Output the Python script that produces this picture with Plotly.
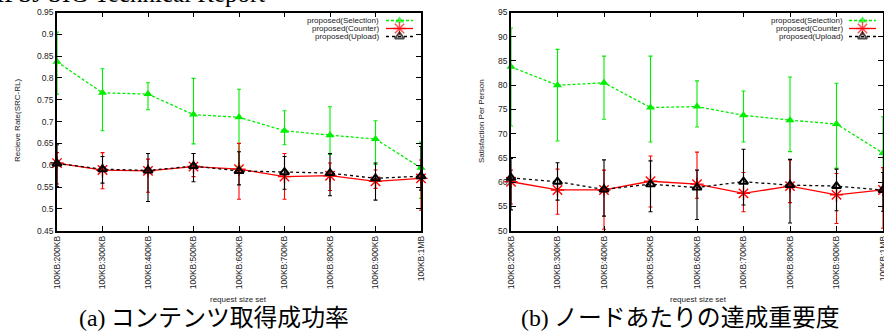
import plotly.graph_objects as go

categories = ["100KB:200KB", "100KB:300KB", "100KB:400KB", "100KB:500KB", "100KB:600KB",
              "100KB:700KB", "100KB:800KB", "100KB:900KB", "100KB:1MB"]

series_names = ["proposed(Selection)", "proposed(Counter)", "proposed(Upload)"]

# (a) Receive rate
sel_rate = [0.837, 0.766, 0.763, 0.716, 0.710, 0.679, 0.669, 0.660, 0.594]
sel_rate_hi = [0.905, 0.821, 0.789, 0.799, 0.774, 0.725, 0.734, 0.702, 0.653]
sel_rate_lo = [0.763, 0.679, 0.727, 0.649, 0.598, 0.647, 0.625, 0.602, 0.524]

cnt_rate = [0.605, 0.589, 0.587, 0.597, 0.591, 0.574, 0.576, 0.563, 0.570]
cnt_rate_hi = [0.629, 0.629, 0.614, 0.627, 0.650, 0.627, 0.605, 0.589, 0.612]
cnt_rate_lo = [0.557, 0.546, 0.538, 0.574, 0.522, 0.522, 0.542, 0.547, 0.497]

upl_rate = [0.604, 0.591, 0.588, 0.598, 0.587, 0.584, 0.582, 0.570, 0.575]
upl_rate_hi = [0.647, 0.620, 0.627, 0.627, 0.631, 0.620, 0.627, 0.605, 0.643]
upl_rate_lo = [0.551, 0.559, 0.517, 0.562, 0.555, 0.545, 0.530, 0.520, 0.543]

# (b) Satisfaction per person
sel_sat = [83.8, 80.0, 80.5, 75.4, 75.6, 73.8, 72.8, 72.0, 66.0]
sel_sat_hi = [91.8, 87.4, 86.0, 86.0, 80.9, 78.8, 81.7, 80.4, 73.5]
sel_sat_lo = [71.6, 68.5, 73.0, 68.3, 71.4, 68.3, 66.3, 62.9, 58.5]

cnt_sat = [60.1, 58.4, 58.4, 60.2, 59.6, 57.7, 59.2, 57.4, 58.4]
cnt_sat_hi = [62.5, 62.7, 62.5, 65.4, 66.2, 62.0, 64.6, 61.8, 63.0]
cnt_sat_lo = [55.5, 53.4, 50.3, 54.9, 56.7, 53.9, 55.8, 51.5, 50.5]

upl_sat = [60.9, 60.1, 58.5, 59.6, 58.9, 60.1, 59.4, 59.2, 58.4]
upl_sat_hi = [64.9, 64.0, 64.6, 64.4, 62.5, 66.8, 64.7, 62.7, 62.0]
upl_sat_lo = [54.3, 56.3, 53.0, 53.9, 52.3, 55.3, 51.6, 54.1, 54.0]

rate_ticks = [0.45, 0.5, 0.55, 0.6, 0.65, 0.7, 0.75, 0.8, 0.85, 0.9, 0.95]
sat_ticks = [50, 55, 60, 65, 70, 75, 80, 85, 90, 95]

W, H = 884, 331
GREEN = "#00ee00"
RED = "#ff0000"
BLACK = "#000000"

styles = [
    dict(color=GREEN, dash="3px,2px", symbol="triangle-up", msize=8, mline=0),
    dict(color=RED, dash="solid", symbol="asterisk-open", msize=11, mline=1.4),
    dict(color=BLACK, dash="dot", symbol="triangle-up-open", msize=8, mline=2),
]

fig = go.Figure()


def add_series(xa, ya, vals, his, los, st, name):
    plus = [h - v for h, v in zip(his, vals)]
    minus = [v - l for v, l in zip(vals, los)]
    fig.add_trace(go.Scatter(
        x=categories, y=vals, name=name, xaxis=xa, yaxis=ya, showlegend=False,
        mode="lines+markers", cliponaxis=False,
        line=dict(color=st["color"], width=1.3, dash=st["dash"]),
        marker=dict(symbol=st["symbol"], size=st["msize"], color=st["color"],
                    line=dict(color=st["color"], width=st["mline"])),
        error_y=dict(type="data", symmetric=False, array=plus, arrayminus=minus,
                     color=st["color"], thickness=1.1, width=2),
    ))


for vals, his, los, st, nm in zip([sel_rate, cnt_rate, upl_rate],
                                  [sel_rate_hi, cnt_rate_hi, upl_rate_hi],
                                  [sel_rate_lo, cnt_rate_lo, upl_rate_lo], styles, series_names):
    add_series("x", "y", vals, his, los, st, nm)

for vals, his, los, st, nm in zip([sel_sat, cnt_sat, upl_sat],
                                  [sel_sat_hi, cnt_sat_hi, upl_sat_hi],
                                  [sel_sat_lo, cnt_sat_lo, upl_sat_lo], styles, series_names):
    add_series("x2", "y2", vals, his, los, st, nm)

# legend keys (gnuplot style: text right-aligned, sample on the right),
# drawn on a hidden pixel-space overlay axis
legend_boxes = [(381, 386, 413), (845, 849, 876)]  # text right edge, sample start, sample end
legend_rows = [20.5, 28.5, 36.5]
small = dict(family="Liberation Sans, Arial, sans-serif", size=8, color="#222")
legend_ann = []
for tx, sx0, sx1 in legend_boxes:
    for st, nm, ry in zip(styles, series_names, legend_rows):
        fig.add_trace(go.Scatter(
            x=[sx0, (sx0 + sx1) / 2, sx1], y=[ry, ry, ry], xaxis="x3", yaxis="y3",
            showlegend=False, hoverinfo="skip", mode="lines+markers", cliponaxis=False,
            line=dict(color=st["color"], width=1.3, dash=st["dash"]),
            marker=dict(symbol=st["symbol"], size=[0, st["msize"], 0], color=st["color"],
                        line=dict(color=st["color"], width=st["mline"])),
        ))
        legend_ann.append(dict(text=nm, x=tx / W, y=1 - ry / H, xanchor="right",
                               yanchor="middle", font=small))

ytop = 1 - 12.5 / H
ybot = 1 - 230.7 / H
tickfont = dict(family="Liberation Sans, Arial, sans-serif", size=8.5, color="#222")

axis_common = dict(showline=True, linecolor="black", linewidth=1.6, mirror="ticks",
                   ticks="inside", ticklen=5, tickwidth=1, tickcolor="black",
                   showgrid=False, zeroline=False, tickfont=tickfont)

fig.update_layout(
    width=W, height=H,
    margin=dict(l=0, r=0, t=0, b=0, autoexpand=False),
    paper_bgcolor="white", plot_bgcolor="rgba(0,0,0,0)",
    font=dict(family="Liberation Sans, Arial, sans-serif", color="#222"),
    showlegend=False,
    xaxis=dict(domain=[57 / W, 421 / W], anchor="y", type="category", range=[0, 8],
               tickangle=-90, **axis_common),
    yaxis=dict(domain=[ybot, ytop], anchor="x", range=[0.45, 0.95],
               tickvals=rate_ticks, **axis_common),
    xaxis2=dict(domain=[511 / W, 883 / W], anchor="y2", type="category", range=[0, 8],
                tickangle=-90, **axis_common),
    yaxis2=dict(domain=[ybot, ytop], anchor="x2", range=[50, 95],
                tickvals=sat_ticks, **axis_common),
    xaxis3=dict(domain=[0, 1], anchor="y3", range=[0, W], visible=False, fixedrange=True),
    yaxis3=dict(domain=[0, 1], anchor="x3", range=[H, 0], visible=False, fixedrange=True),
)

cap_font = dict(family="Noto Sans CJK JP, sans-serif", size=23.8, color="black")
ann = legend_ann + [
    dict(text="Recieve Rate(SRC-RL)", x=18 / W, y=1 - 121 / H, textangle=-90, font=small),
    dict(text="Satisfaction Per Person", x=482 / W, y=1 - 121 / H, textangle=-90, font=small),
    dict(text="request size set", x=239 / W, y=1 - 299 / H, font=small),
    dict(text="request size set", x=698 / W, y=1 - 299 / H, font=small),
    dict(text='<span style="font-family:Liberation Serif, serif">(a)</span> コンテンツ取得成功率',
         x=213.5 / W, y=1 - 315 / H, font=cap_font),
    dict(text='<span style="font-family:Liberation Serif, serif">(b)</span> ノードあたりの達成重要度',
         x=680.5 / W, y=1 - 315 / H, font=cap_font),
    dict(text="IPSJ SIG Technical Report", x=267 / W, y=1 - 9 / H, xanchor="right",
         yanchor="bottom",
         font=dict(family="Liberation Serif, serif", size=25, color="black")),
]
for a in ann:
    a.setdefault("xanchor", "center")
    a.setdefault("yanchor", "middle")
    fig.add_annotation(xref="paper", yref="paper", showarrow=False, **a)

fig.write_html("out.html",
               config={"displayModeBar": False},
               post_script="document.body.style.margin='0';"
                           "document.body.style.overflow='hidden';")
